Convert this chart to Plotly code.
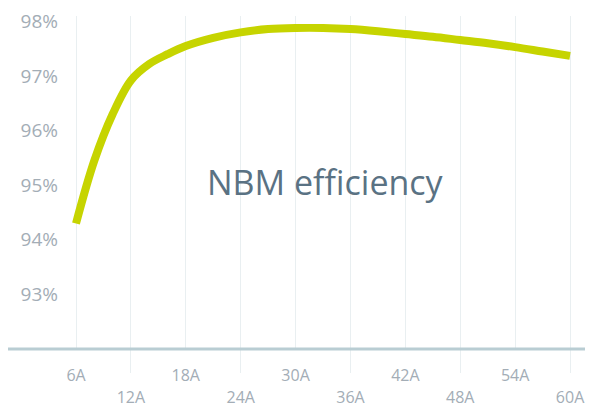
import plotly.graph_objects as go

current_a = [6, 8, 10, 12, 14, 16, 18, 21, 24, 27, 30, 33, 36, 39, 42, 45, 48, 51, 54, 57, 60]
efficiency = [94.30, 95.45, 96.30, 96.92, 97.22, 97.40, 97.55, 97.70, 97.80, 97.86, 97.88,
              97.88, 97.86, 97.82, 97.77, 97.72, 97.66, 97.60, 97.53, 97.45, 97.37]

upper_ticks = [6, 18, 30, 42, 54]
lower_ticks = [12, 24, 36, 48, 60]
upper_labels = ["6A", "18A", "30A", "42A", "54A"]
lower_labels = ["12A", "24A", "36A", "48A", "60A"]
y_ticks = [93, 94, 95, 96, 97, 98]
y_labels = ["93%", "94%", "95%", "96%", "97%", "98%"]
title_text = "NBM efficiency"

LABEL = "#a3adb6"
GRID = "#e9eff1"
FONT = "Open Sans, Noto Sans, sans-serif"

fig = go.Figure()
fig.add_trace(go.Scatter(
    x=current_a, y=efficiency, mode="lines",
    line=dict(color="#c6d400", width=8, shape="spline", smoothing=1.0),
    hoverinfo="skip", showlegend=False,
))
fig.add_trace(go.Scatter(x=[None], y=[None], xaxis="x2", showlegend=False))

xr = [4.47, 62.51]
fig.update_layout(
    width=585, height=401,
    margin=dict(l=54, r=0, t=8, b=60, autoexpand=False),
    paper_bgcolor="white", plot_bgcolor="white",
    font=dict(family=FONT, color=LABEL),
    xaxis=dict(
        range=xr, tickvals=upper_ticks, ticktext=upper_labels,
        showgrid=True, gridcolor=GRID, gridwidth=1, zeroline=False,
        ticks="", showline=False, tickfont=dict(size=16, color=LABEL),
        ticklabelstandoff=15,
    ),
    xaxis2=dict(
        range=xr, overlaying="x", side="bottom", anchor="y",
        tickvals=lower_ticks, ticktext=lower_labels,
        showgrid=True, gridcolor=GRID, gridwidth=1, zeroline=False,
        ticks="outside", ticklen=23, tickcolor=GRID, tickwidth=1,
        showline=False, tickfont=dict(size=16, color=LABEL),
        ticklabelstandoff=11,
    ),
    yaxis=dict(
        range=[92, 98.1], tickvals=y_ticks, ticktext=y_labels,
        showgrid=False, zeroline=False, showline=False, ticks="",
        tickfont=dict(size=19, color=LABEL), ticklabelstandoff=3,
    ),
    shapes=[dict(type="line", xref="paper", yref="paper",
                 x0=-0.107, x1=1.02, y0=0, y1=0,
                 line=dict(color="#b9cdd3", width=3), layer="above")],
    annotations=[dict(text=title_text, xref="paper", yref="paper",
                      x=(325 - 62) / 531, y=(349 - 182) / 333,
                      xanchor="center", yanchor="middle", showarrow=False,
                      font=dict(size=34, color="#5a7283", family=FONT))],
)

fig.write_html("out.html")
